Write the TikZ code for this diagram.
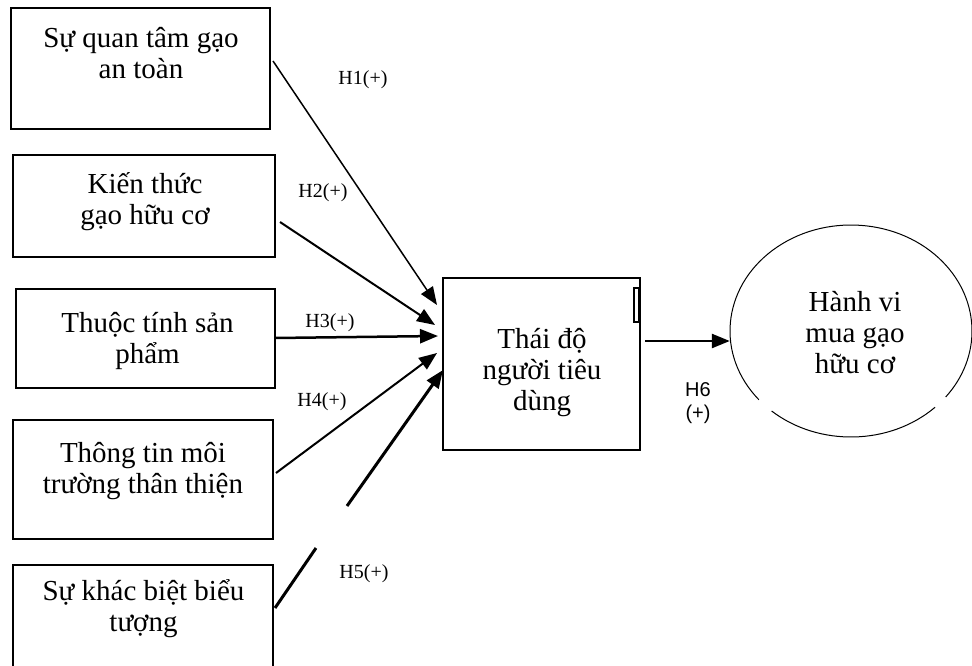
\documentclass[tikz,border=0pt]{standalone}
\usepackage{fontspec}
\setmainfont{Liberation Serif}
\newfontfamily\hsans{Liberation Sans}
\usetikzlibrary{arrows.meta,shapes.geometric}
\begin{document}
\begin{tikzpicture}[x=1pt,y=-1pt,
  box/.style={draw, line width=2pt, rectangle, inner sep=0pt},
  txt/.style={font=\fontsize{29}{31}\selectfont, align=center, inner sep=0pt, anchor=north},
  lbl/.style={font=\fontsize{20}{23}\selectfont, inner sep=0pt},
  arr/.style={-{Triangle[length=18pt,width=14pt]}}]
\useasboundingbox (0,0) rectangle (972,666);
\clip (0,0) rectangle (972,666);
% left boxes
\node[box, minimum width=259pt, minimum height=121pt] (b1) at (140.5,68.5) {};
\node[box, minimum width=262pt, minimum height=102pt] (b2) at (144,206) {};
\node[box, minimum width=259pt, minimum height=99pt] (b3) at (145.5,338.5) {};
\node[box, minimum width=260pt, minimum height=119pt] (b4) at (143,479.5) {};
\node[box, minimum width=260pt, minimum height=125pt] (b5) at (143,627.5) {};
\node[txt] (t1) at (141,25.3) {Sự quan tâm gạo\strut\\an toàn\strut};
\node[txt] (t2) at (145,171.3) {Kiến thức\strut\\gạo hữu cơ\strut};
\node[txt] (t3) at (147.5,310.3) {Thuộc tính sản\strut\\phẩm\strut};
\node[txt] (t4) at (143,440.3) {Thông tin môi\strut\\trường thân thiện\strut};
\node[txt] (t5) at (143.5,578.3) {Sự khác biệt biểu\strut\\tượng\strut};
% center box
\node[box, minimum width=197pt, minimum height=172pt] (c) at (541.5,364) {};
\node[draw, line width=1.2pt, minimum width=5pt, minimum height=34pt, inner sep=0pt] (sr) at (636.5,305) {};
\node[txt] (tc) at (542,326.3) {Thái độ\strut\\người tiêu\strut\\dùng\strut};
% ellipse
\node[ellipse, minimum width=242pt, minimum height=212pt, inner sep=0pt] (el) at (851,331) {};
\draw[line width=1pt] (el.center) ++(46:121 and 106) arc[start angle=46, end angle=131, x radius=121, y radius=106];
\draw[line width=1pt] (el.center) ++(139.6:121 and 106) arc[start angle=139.6, end angle=398.5, x radius=121, y radius=106];
\node[txt] (te) at (855,289.3) {Hành vi\strut\\mua gạo\strut\\hữu cơ\strut};
% connectors
\coordinate (s1) at (273,61);  \coordinate (e1) at (437,305);
\coordinate (s2) at (280,222); \coordinate (e2) at (435,325);
\coordinate (s3) at (275,338); \coordinate (e3) at (438,336);
\coordinate (s4) at (276,473); \coordinate (e4) at (437,353);
\coordinate (s5) at (275,608); \coordinate (g5a) at (316,548);
\coordinate (g5b) at (347,506); \coordinate (e5) at (443,370);
\coordinate (s6) at (645,341);
\draw[arr, line width=1.5pt] (s1) -- (e1);
\draw[arr, line width=2pt] (s2) -- (e2);
\draw[arr, line width=2.5pt] (s3) -- (e3);
\draw[arr, line width=2pt] (s4) -- (e4);
\draw[line width=3pt] (s5) -- (g5a);
\draw[arr, line width=3pt] (g5b) -- (e5);
\draw[arr, line width=2.5pt] (s6) -- (s6 -| el.west);
% labels
\node[lbl] (h1) at (363,80) {H1(+)};
\node[lbl] (h2) at (323,193) {H2(+)};
\node[lbl] (h3) at (330,323) {H3(+)};
\node[lbl] (h4) at (322,402) {H4(+)};
\node[lbl] (h5) at (364,574) {H5(+)};
\node[lbl, font=\hsans\fontsize{20}{23}\selectfont, align=center] (h6) at (698,403) {H6\\(+)};
\end{tikzpicture}
\end{document}
